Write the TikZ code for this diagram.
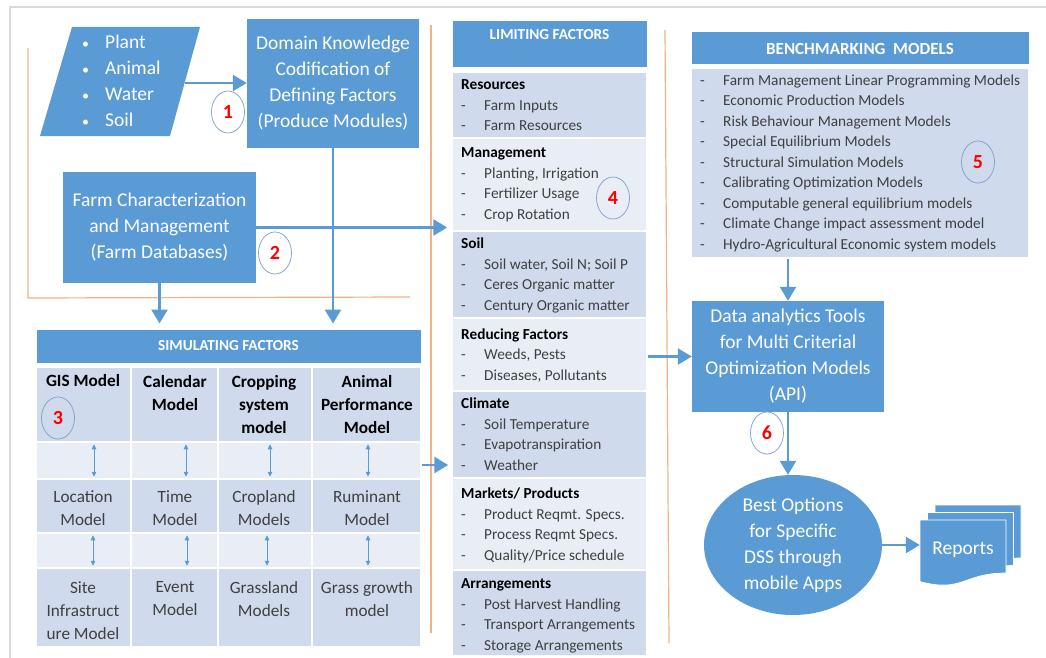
\documentclass[tikz,border=0pt]{standalone}
\usepackage{fontspec}
\setmainfont{Carlito}
\usetikzlibrary{arrows.meta,shapes.geometric}
\definecolor{bl}{HTML}{5B9BD5}
\definecolor{cd}{HTML}{CFDAEC}
\definecolor{cl}{HTML}{E8EDF6}
\definecolor{org}{HTML}{F4B183}
\definecolor{frm}{HTML}{D9D9D9}
\definecolor{txg}{HTML}{404040}
\definecolor{cir}{HTML}{7F9FCB}
\definecolor{nred}{HTML}{FF0000}
\newcommand\myBig{\fontsize{19.5}{26}\selectfont}
\newcommand\myTab{\fontsize{17.2}{23}\selectfont}
\newcommand\myList{\fontsize{15.3}{20.5}\selectfont}
\newcommand\lfdash{\makebox[23pt][l]{-}}
\newcommand\pbul{\makebox[23pt][l]{\fontsize{14}{14}\selectfont •}}
\newcommand\lftitle[1]{\textcolor{black}{\bfseries #1}}
\tikzset{
  box/.style={rectangle, fill=bl, draw=none, inner sep=0pt, text=white, align=center, font=\myBig},
  hdr/.style={rectangle, fill=bl, draw=white, line width=1pt, inner sep=0pt, text=white, font=\fontsize{15.3}{18}\selectfont\bfseries},
  cell/.style={rectangle, draw=white, line width=1.5pt, inner sep=0pt},
  sec/.style={rectangle, draw=white, line width=1.5pt, inner sep=0pt, minimum width=195},
  ttb/.style={inner sep=0pt, align=center, font=\myTab\bfseries, text=black},
  ttr/.style={inner sep=0pt, align=center, font=\myTab, text=txg},
  lst/.style={inner sep=0pt, anchor=west, align=left, font=\myList, text=txg},
  arr/.style={draw=bl, line width=2.6pt, -{Triangle[length=14pt,width=16pt]}},
  dbl/.style={draw=bl, line width=0.8pt, {Triangle[length=5pt,width=4.5pt]}-{Triangle[length=5pt,width=4.5pt]}, shorten <=1.5pt, shorten >=1.5pt},
  num/.style={ellipse, draw=cir, line width=0.7pt, minimum width=33, minimum height=42, inner sep=0pt, text=nred, font=\fontsize{20}{22}\selectfont\bfseries},
  orl/.style={draw=org, line width=1.2pt}
}
\begin{document}
\begin{tikzpicture}[x=1pt,y=-1pt]
\useasboundingbox (0,0) rectangle (1046,658);
\fill[white] (0,0) rectangle (1046,658);
% frame and orange guide lines
\draw[frm, line width=2pt] (10,658) -- (10,7) -- (1046,7);
\draw[orl] (28,48) -- (28,298) -- (410,297);
\draw[orl] (431,25) -- (431,633);
\draw[orl] (665,30) -- (669,643);

% inputs parallelogram
\fill[bl] (40,136) -- (72,27) -- (200,27) -- (170,136) -- cycle;
\node[lst, text=white, font=\myBig, anchor=west] (para) at (82,81)
  {\pbul Plant\\\pbul Animal\\\pbul Water\\\pbul Soil};
\coordinate (paraR) at (185,83);

\node[box, minimum width=172, minimum height=129] (dom) at (333,83.5)
  {Domain Knowledge\\Codification of\\Defining Factors\\(Produce Modules)};
\node[box, minimum width=193, minimum height=111] (farm) at (159.5,227.5)
  {Farm Characterization\\and Management\\(Farm Databases)};

% simulating factors
\node[hdr, minimum width=385, minimum height=34] (sfh) at (228.5,346) {SIMULATING FACTORS};
\foreach \y/\h/\c [count=\i] in {404.5/75/cd,460.5/37/cl,506/54/cd,550.5/35/cl,607.5/79/cd}
  \foreach \x/\w [count=\j] in {83.5/95,174.5/87,265/94,366.5/109}
    \node[cell, fill=\c, minimum width=\w, minimum height=\h] (cell-\i-\j) at (\x,\y) {};
\node[ttb] (t11) at (83,381) {GIS Model};
\node[ttb] (t12) at (175,393) {Calendar\\Model};
\node[ttb] (t13) at (264,405) {Cropping\\system\\model};
\node[ttb] (t14) at (367,405) {Animal\\Performance\\Model};
\node[ttr] (t31) at (83,508) {Location\\Model};
\node[ttr] (t32) at (175,508) {Time\\Model};
\node[ttr] (t33) at (264,508) {Cropland\\Models};
\node[ttr] (t34) at (367,508) {Ruminant\\Model};
\node[ttr] (t51) at (83,611) {Site\\Infrastruct\\ure Model};
\node[ttr] (t52) at (175,599) {Event\\Model};
\node[ttr] (t53) at (264,599) {Grassland\\Models};
\node[ttr] (t54) at (367,599) {Grass growth\\model};
\foreach \j/\s in {1/10.5,2/11.5,3/5,4/1.5}
  \draw[dbl] ([xshift=\s]cell-1-\j.south) -- ([xshift=\s]cell-3-\j.north);
\foreach \j/\s in {1/9.5,2/12.5,3/2,4/1.5}
  \draw[dbl] ([xshift=\s]cell-3-\j.south) -- ([xshift=\s]cell-5-\j.north);

% limiting factors
\node[hdr, minimum width=195, minimum height=47] (lfh) at (549.5,44.5) {};
\node[inner sep=0pt, text=white, font=\fontsize{15.3}{18}\selectfont\bfseries] (lfht) at (549.5,35) {LIMITING FACTORS};
\node[sec, fill=cd, minimum height=66] (lfres) at (549.5,105) {};
\node[sec, fill=cl, minimum height=93] (lfman) at (549.5,184.5) {};
\node[sec, fill=cd, minimum height=87] (lfsoil) at (549.5,274.5) {};
\node[sec, fill=cl, minimum height=73] (lfred) at (549.5,354.5) {};
\node[sec, fill=cd, minimum height=87] (lfclim) at (549.5,434.5) {};
\node[sec, fill=cl, minimum height=92] (lfmkt) at (549.5,524) {};
\node[sec, fill=cd, minimum height=86] (lfarr) at (549.5,613) {};
\node[lst] (l1) at (461,105.5) {\lftitle{Resources}\\\lfdash Farm Inputs\\\lfdash Farm Resources};
\node[lst] (l2) at (461,185) {\lftitle{Management}\\\lfdash Planting, Irrigation\\\lfdash Fertilizer Usage\\\lfdash Crop Rotation};
\node[lst] (l3) at (461,275.5) {\lftitle{Soil}\\\lfdash Soil water, Soil N; Soil P\\\lfdash Ceres Organic matter\\\lfdash Century Organic matter};
\node[lst] (l4) at (461,355.5) {\lftitle{Reducing Factors}\\\lfdash Weeds, Pests\\\lfdash Diseases, Pollutants};
\node[lst] (l5) at (461,434) {\lftitle{Climate}\\\lfdash Soil Temperature\\\lfdash Evapotranspiration\\\lfdash Weather};
\node[lst] (l6) at (461,525.5) {\lftitle{Markets/ Products}\\\lfdash Product Reqmt. Specs.\\\lfdash Process Reqmt Specs.\\\lfdash Quality/Price schedule};
\node[lst] (l7) at (461,616) {\lftitle{Arrangements}\\\lfdash Post Harvest Handling\\\lfdash Transport Arrangements\\\lfdash Storage Arrangements};

% benchmarking models
\node[hdr, minimum width=338, minimum height=33, font=\fontsize{17}{20}\selectfont\bfseries] (bmh) at (860,48.5) {BENCHMARKING\ \ MODELS};
\node[sec, fill=cd, minimum width=338, minimum height=190] (bmb) at (860,163) {};
\node[lst] (bml) at (700,163.5) {\lfdash Farm Management Linear Programming Models\\
  \lfdash Economic Production Models\\
  \lfdash Risk Behaviour Management Models\\
  \lfdash Special Equilibrium Models\\
  \lfdash Structural Simulation Models\\
  \lfdash Calibrating Optimization Models\\
  \lfdash Computable general equilibrium models\\
  \lfdash Climate Change impact assessment model\\
  \lfdash Hydro-Agricultural Economic system models};

% data analytics, best options, reports
\node[box, minimum width=192, minimum height=111] (da) at (788,356.5)
  {Data analytics Tools\\for Multi Criterial\\Optimization Models\\(API)};
\node[ellipse, fill=bl, minimum width=178, minimum height=140, inner sep=0pt] (best) at (793,545) {};
\node[inner sep=0pt, align=center, text=white, font=\myBig] (besttxt) at (793,545)
  {Best Options\\for Specific\\DSS through\\mobile Apps};
\foreach \d in {15,7.5,0}
  \filldraw[fill=bl, draw=white, line width=0.7pt, shift={(\d,-\d)}]
    (920,520) -- (1006,520) -- (1006,573) .. controls (963,573) and (963,593) .. (920,581.6) -- cycle;
\node[inner sep=0pt, minimum width=86, minimum height=60, text=white, font=\myBig] (rep) at (963,550) {Reports};

% connectors
\draw[arr] (paraR) -- (paraR -| dom.west);
\draw[arr, shorten >=5pt] (dom.south) -- (dom.south |- sfh.north);
\draw[arr, shorten >=5pt] (farm.south) -- (farm.south |- sfh.north);
\draw[arr, shorten >=4pt] (farm.east) -- (farm.east -| lfman.west);
\draw[arr, shorten >=3pt] ([yshift=-4.5pt]cell-2-4.east) -- ([yshift=-4.5pt]cell-2-4.east -| lfclim.west);
\draw[arr] (da.west -| lfred.east) -- (da.west);
\draw[arr] (bmb.south -| da.north) -- (da.north);
\draw[arr] (da.south) -- (da.south |- best.north);
\draw[arr] (best.east) -- (best.east -| rep.west);

% step numbers
\node[num] (n1) at (228,112) {1};
\node[num] (n2) at (275,253) {2};
\node[num] (n3) at (58,418) {3};
\node[num] (n4) at (613,198) {4};
\node[num] (n5) at (978,162) {5};
\node[num] (n6) at (767,433) {6};
\end{tikzpicture}
\end{document}
